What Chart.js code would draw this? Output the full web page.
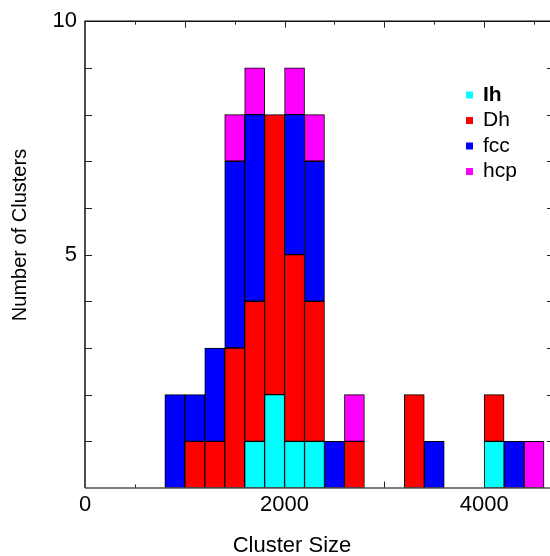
<!DOCTYPE html>
<html>
<head>
<meta charset="utf-8">
<title>Cluster size histogram</title>
<script src="https://cdn.jsdelivr.net/npm/chart.js@4.4.1/dist/chart.umd.min.js"></script>
<style>
  html, body { margin: 0; padding: 0; overflow: hidden; background: #fff; }
  #wrap { width: 560px; height: 556px; }
</style>
</head>
<body>
<div id="wrap"><canvas id="mycanvas"></canvas></div>
<script>
// histogram bins, 200 wide, given by their centres
var binCentres = [900, 1100, 1300, 1500, 1700, 1900, 2100, 2300, 2500, 2700, 3300, 3500, 4100, 4300, 4500];
var countIh  = [0, 0, 0, 0, 1, 2, 1, 1, 0, 0, 0, 0, 1, 0, 0];
var countDh  = [0, 1, 1, 3, 3, 6, 4, 3, 0, 1, 2, 0, 1, 0, 0];
var countFcc = [2, 1, 2, 4, 4, 0, 3, 3, 1, 0, 0, 1, 0, 1, 0];
var countHcp = [0, 0, 0, 1, 1, 0, 1, 1, 0, 1, 0, 0, 0, 0, 1];

var structNames  = ["Ih", "Dh", "fcc", "hcp"];
var structColors = ["#00ffff", "#ff0000", "#0000ff", "#ff00ff"];

var xTickLabels = [0, 2000, 4000];
var yTickLabels = [5, 10];

var FONT = "'Liberation Sans', Arial, Helvetica, sans-serif";

function toPoints(counts) {
  var pts = [];
  for (var i in binCentres) {
    if (counts[i] > 0) pts.push({ x: binCentres[i], y: counts[i] });
  }
  return pts;
}

var allCounts = [countIh, countDh, countFcc, countHcp];
var datasets = [];
for (var k = 0; k < structNames.length; k++) {
  datasets.push({
    label: structNames[k],
    data: toPoints(allCounts[k]),
    backgroundColor: structColors[k],
    borderColor: "#000",
    borderWidth: 1,
    borderSkipped: false,
    barPercentage: 1.0,
    categoryPercentage: 1.0
  });
}

// inward tick marks on all four sides, under the bars
var tickMarks = {
  id: "tickMarks",
  beforeDatasetsDraw: function(chart) {
    var ctx = chart.ctx, a = chart.chartArea;
    var xs = chart.scales.x, ys = chart.scales.y;
    ctx.save();
    ctx.strokeStyle = "#222";
    ctx.lineWidth = 1;
    ctx.beginPath();
    for (var v = 500; v < xs.max; v += 500) {
      var len = v % 1000 === 0 ? 6.5 : 3.5;
      var px = Math.round(xs.getPixelForValue(v)) + 0.5;
      ctx.moveTo(px, a.bottom);
      ctx.lineTo(px, a.bottom - len);
      ctx.moveTo(px, a.top);
      ctx.lineTo(px, a.top + len);
    }
    for (var w = 1; w < ys.max; w++) {
      var py = Math.round(ys.getPixelForValue(w)) + 0.5;
      ctx.moveTo(a.left, py);
      ctx.lineTo(a.left + 7, py);
      ctx.moveTo(a.right, py);
      ctx.lineTo(a.right - 7, py);
    }
    ctx.stroke();
    ctx.restore();
  },
  afterDatasetsDraw: function(chart) {
    var ctx = chart.ctx, a = chart.chartArea;
    ctx.save();
    ctx.lineWidth = 1.5;
    ctx.strokeStyle = "#111";
    ctx.beginPath();
    ctx.moveTo(a.left, a.bottom);
    ctx.lineTo(a.left, a.top);
    ctx.lineTo(a.right, a.top);
    ctx.lineTo(a.right, a.bottom);
    ctx.stroke();
    ctx.strokeStyle = "#555";
    ctx.beginPath();
    ctx.moveTo(a.left, a.bottom);
    ctx.lineTo(a.right, a.bottom);
    ctx.stroke();
    ctx.restore();
  }
};

// axis titles and the small square legend
var labelsAndKey = {
  id: "labelsAndKey",
  afterDraw: function(chart) {
    var ctx = chart.ctx;
    ctx.save();
    ctx.fillStyle = "#000";
    ctx.textAlign = "center";
    ctx.textBaseline = "middle";
    ctx.font = "22px " + FONT;
    ctx.fillText("Cluster Size", 292, 546);
    ctx.translate(20, 235);
    ctx.rotate(-Math.PI / 2);
    ctx.font = "20px " + FONT;
    ctx.fillText("Number of Clusters", 0, 0);
    ctx.restore();

    ctx.save();
    ctx.textAlign = "left";
    ctx.textBaseline = "middle";
    chart.data.datasets.forEach(function(ds, i) {
      var cy = 95 + i * 25.5;
      ctx.fillStyle = ds.backgroundColor;
      ctx.fillRect(466, cy - 3.5, 7, 7);
      ctx.fillStyle = "#000";
      ctx.font = (i === 0 ? "bold " : "") + "21px " + FONT;
      ctx.fillText(ds.label, 483, cy);
    });
    ctx.restore();
  }
};

var ctx = document.getElementById("mycanvas");

var histo = new Chart(ctx, {
  type: "bar",
  data: { datasets: datasets },
  options: {
    responsive: true,
    maintainAspectRatio: false,
    animation: false,
    layout: { padding: { top: 21, right: 6, left: 0, bottom: 0 } },
    plugins: {
      legend: { display: false },
      tooltip: { enabled: false }
    },
    scales: {
      x: {
        type: "linear",
        stacked: true,
        offset: false,
        min: 0,
        max: 4700,
        grid: { display: false, drawTicks: false, offset: false },
        border: { display: false },
        // keep ticks on round 500 steps even though max is not a multiple
        afterBuildTicks: function(s) {
          var t = [];
          for (var v = 0; v <= s.max; v += 500) t.push({ value: v });
          s.ticks = t;
        },
        ticks: {
          autoSkip: false,
          maxRotation: 0,
          padding: 4,
          color: "#000",
          font: { family: FONT, size: 22 },
          callback: function(v) { return xTickLabels.indexOf(v) >= 0 ? String(v) : ""; }
        },
        afterFit: function(s) { s.height = 68; }
      },
      y: {
        stacked: true,
        min: 0,
        max: 10,
        grid: { display: false, drawTicks: false },
        border: { display: false },
        ticks: {
          stepSize: 1,
          autoSkip: false,
          padding: 8,
          color: "#000",
          font: { family: FONT, size: 22 },
          callback: function(v) { return yTickLabels.indexOf(v) >= 0 ? String(v) : ""; }
        },
        afterFit: function(s) { s.width = 85; }
      }
    }
  },
  plugins: [tickMarks, labelsAndKey]
});
</script>
</body>
</html>
